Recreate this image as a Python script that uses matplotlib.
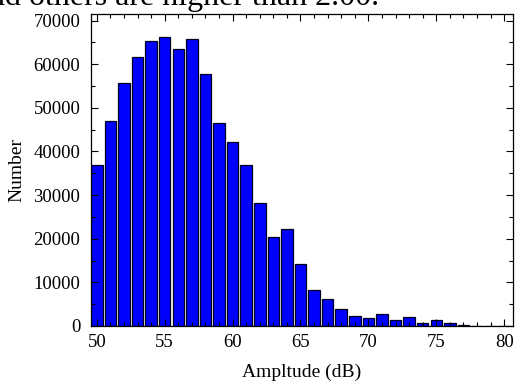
import matplotlib
matplotlib.use("Agg")
import matplotlib.pyplot as plt
from matplotlib.ticker import MultipleLocator

amplitude = list(range(50, 81))
counts = [37000, 47000, 55800, 61600, 65200, 66200, 63500, 65800, 57800, 46500,
          42200, 37000, 28300, 20500, 22300, 14200, 8150, 6300, 3950, 2350,
          1750, 2650, 1450, 1950, 700, 1350, 650, 200, 0, 0, 0]

x_label = "Ampltude (dB)"
y_label = "Number"
header_text = "nd others are higher than 2.00."

plt.rcParams['font.family'] = ['Liberation Serif', 'DejaVu Serif']

fig = plt.figure(figsize=(5.16, 3.88), dpi=100)
ax = fig.add_axes([90.7/516, 1-326/388, (513-90.7)/516, (326-14)/388])

ax.bar(amplitude, counts, width=0.85, color='#0000ff', edgecolor='#000020', linewidth=0.9)

ax.set_xlim(49.55, 80.65)
ax.set_ylim(0, 71500)
ax.xaxis.set_major_locator(MultipleLocator(5))
ax.xaxis.set_minor_locator(MultipleLocator(1))
ax.yaxis.set_major_locator(MultipleLocator(10000))
ax.yaxis.set_minor_locator(MultipleLocator(5000))
ax.tick_params(which='both', direction='in', top=True, right=True, labelsize=13.5, width=0.8)
ax.tick_params(which='major', length=5)
ax.tick_params(which='minor', length=3)
ax.tick_params(axis='y', which='major', pad=7.5)
ax.tick_params(axis='x', which='major', pad=6)
ax.set_axisbelow(False)
for s in ax.spines.values():
    s.set_linewidth(0.9)

ax.set_xlabel(x_label, fontsize=14, labelpad=9)
ax.set_ylabel(y_label, fontsize=14, labelpad=6)

fig.text(379/516, 1-5/388, header_text, ha='right', va='baseline', fontsize=23)

fig.savefig("out.png", dpi=100)
